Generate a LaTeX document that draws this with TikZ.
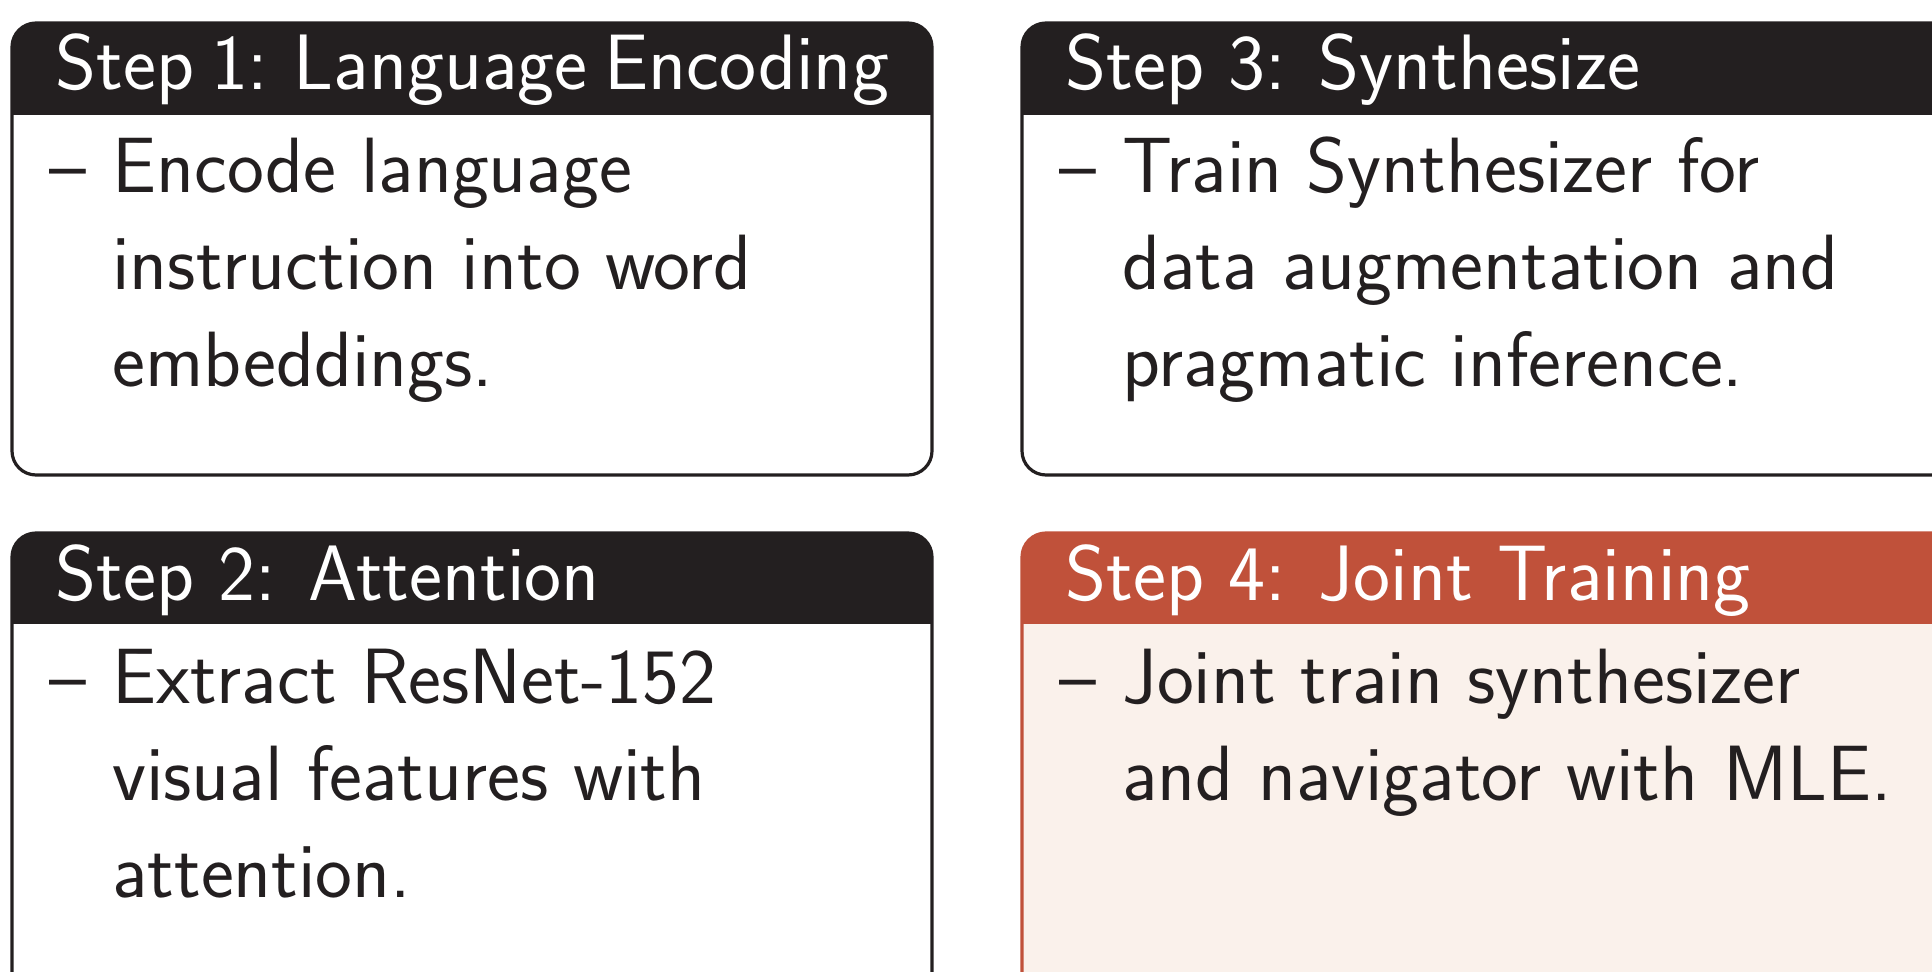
\documentclass[tikz,border=0pt]{standalone}
\usepackage{fontspec}
\definecolor{inkdark}{HTML}{231F20}
\definecolor{rust}{HTML}{C0513A}
\definecolor{paleback}{HTML}{FAF1EB}
\newcommand{\myblock}[8]{%
  \fill[#8, rounded corners=12] (#1,#2) rectangle (#3,#4);
  \begin{scope}
    \clip[rounded corners=12] (#1,#2) rectangle (#3,#4);
    \fill[#6] (#1,#2) rectangle (#3,#5);
  \end{scope}
  \draw[#7, line width=1.6pt, rounded corners=12] (#1,#2) rectangle (#3,#4);
}
\tikzset{
  headtxt/.style={anchor=base west, inner sep=0pt, text=white, font=\sffamily\fontsize{39.3}{48.5}\selectfont},
  bodytxt/.style={anchor=base west, inner sep=0pt, text=inkdark, font=\sffamily\fontsize{39.2}{48.5}\selectfont},
}
\begin{document}
\begin{tikzpicture}[x=0.5pt,y=-0.5pt]
\useasboundingbox (0,0) rectangle (1932,972);
\clip (0,0) rectangle (1932,972);
% blocks
\myblock{12}{23}{932}{475}{115}{inkdark}{inkdark}{white}
\myblock{1022}{23}{1980}{475}{115}{inkdark}{inkdark}{white}
\myblock{12}{533}{932}{1020}{624}{inkdark}{inkdark}{white}
\myblock{1022}{533}{1980}{1020}{624}{rust}{rust}{paleback}
% Step 1
\node[headtxt] (h1) at (55,90) {\spaceskip=8.5pt Step 1: Language Encoding};
\node[bodytxt] (d1) at (49,193) {--};
\node[bodytxt] (t1a) at (112,193) {Encode language};
\node[bodytxt] (t1b) at (112,290) {instruction into word};
\node[bodytxt] (t1c) at (112,387) {embeddings.};
% Step 3
\node[headtxt] (h3) at (1065,90) {Step 3: Synthesize};
\node[bodytxt] (d3) at (1059,193) {--};
\node[bodytxt] (t3a) at (1122,193) {Train Synthesizer for};
\node[bodytxt] (t3b) at (1122,290) {data augmentation and};
\node[bodytxt] (t3c) at (1122,387) {pragmatic inference.};
% Step 2
\node[headtxt] (h2) at (55,600) {Step 2: Attention};
\node[bodytxt] (d2) at (49,703) {--};
\node[bodytxt] (t2a) at (112,703) {Extract ResNet-152};
\node[bodytxt] (t2b) at (112,800) {visual features with};
\node[bodytxt] (t2c) at (112,897) {attention.};
% Step 4
\node[headtxt] (h4) at (1065,600) {Step 4: Joint Training};
\node[bodytxt] (d4) at (1059,703) {--};
\node[bodytxt] (t4a) at (1122,703) {Joint train synthesizer};
\node[bodytxt] (t4b) at (1122,800) {and navigator with MLE.};
\end{tikzpicture}
\end{document}
